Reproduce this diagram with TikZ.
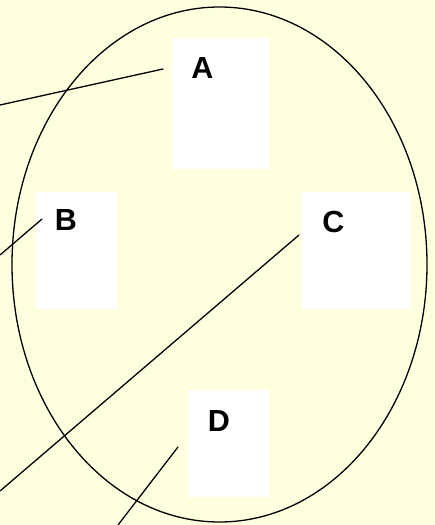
\documentclass[tikz,border=0pt]{standalone}
\usepackage{fontspec}
\setmainfont{Liberation Sans}
\usepackage{xcolor}
\usepackage{tikz}
\definecolor{paper}{HTML}{FFFFE0}

\begin{document}
\begin{tikzpicture}[x=1pt, y=-1pt,
    card/.style={rectangle, fill=white, inner sep=0pt},
    letter/.style={inner sep=0pt, font=\fontsize{30.5}{30}\selectfont\bfseries},
    leader/.style={line width=1.3pt, line cap=round}]
  \fill[paper] (0,0) rectangle (435,525);
  \useasboundingbox (0,0) rectangle (435,525);
  \node[card, minimum width=97pt, minimum height=131pt] (cardA) at (220.5,103.5) {};
  \node[card, minimum width=81pt, minimum height=117pt] (cardB) at (76.5,250.5) {};
  \node[card, minimum width=109pt, minimum height=117pt] (cardC) at (356.5,250.5) {};
  \node[card, minimum width=81pt, minimum height=107pt] (cardD) at (228.5,443.5) {};
  \draw[line width=1.3pt] (219.5,264.5) ellipse [x radius=207.5, y radius=257.5];
  \node[letter] (lblA) at (202.5,68.5) {A};
  \node[letter] (lblB) at (66,220.5) {B};
  \node[letter] (lblC) at (333.5,222) {C};
  \node[letter] (lblD) at (219,421) {D};
  \coordinate (tipA) at (163,69);
  \coordinate (tipB) at (42,219);
  \coordinate (tipC) at (299,235);
  \coordinate (tipD) at (178,447);
  \coordinate (endA) at (0,105);
  \coordinate (endB) at (0,255);
  \coordinate (endC) at (0,491);
  \coordinate (endD) at (118,525);
  \draw[leader] (endA) -- (tipA);
  \draw[leader] (endB) -- (tipB);
  \draw[leader] (endC) -- (tipC);
  \draw[leader] (endD) -- (tipD);
\end{tikzpicture}
\end{document}
